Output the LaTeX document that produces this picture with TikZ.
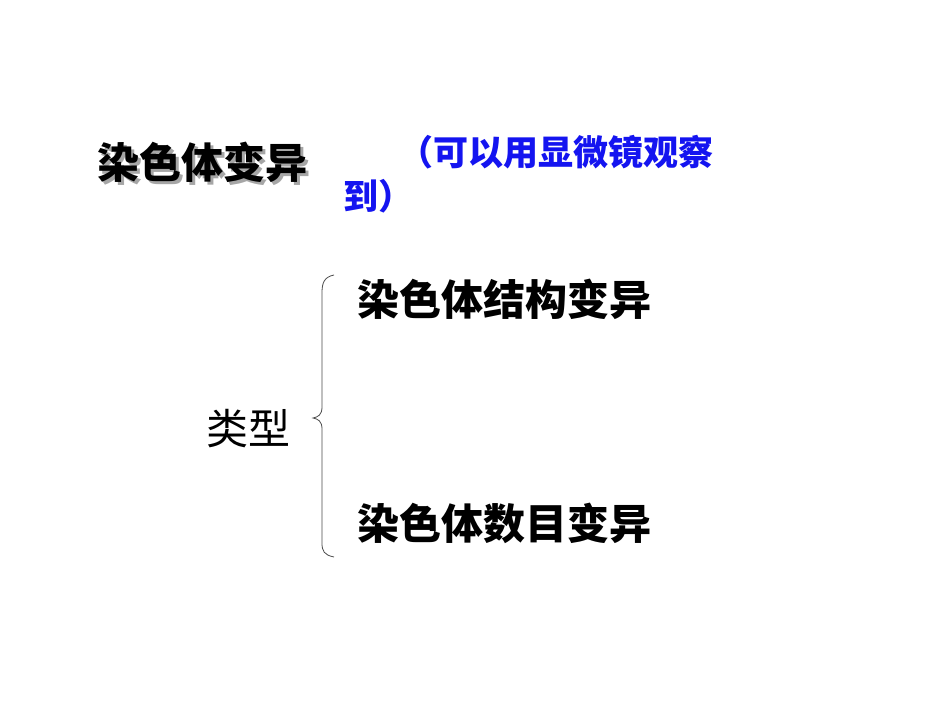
\documentclass[tikz,border=0pt]{standalone}
\usepackage{fontspec}
\newfontfamily\cjk{Noto Sans CJK SC}
\definecolor{tblue}{RGB}{20,20,240}
\begin{document}
\begin{tikzpicture}[x=1pt,y=1pt,
  big/.style={font=\cjk\bfseries\fontsize{42}{46}\selectfont,inner sep=0pt,anchor=west},
  bl/.style={font=\cjk\bfseries\fontsize{35}{42}\selectfont,inner sep=0pt,anchor=west,text=tblue}]
\useasboundingbox (0,0) rectangle (950,713);
\fill[white] (0,0) rectangle (950,713);
\node[big,text=gray!70] at (100,548) {染色体变异};
\node[big] (title) at (97,551) {染色体变异};
\node[bl] (p1) at (398,561) {（可以用显微镜观察};
\node[bl] (p2) at (343,517) {到）};
\node[big] (s) at (357,414) {染色体结构变异};
\node[big] (n) at (357,190) {染色体数目变异};
\node[font=\cjk\fontsize{42}{46}\selectfont,inner sep=0pt,anchor=west] (t) at (206,284) {类型};
\draw[line width=0.8pt,gray!60!black] (334,438) .. controls (324,436) and (322,430) .. (322,420)
  -- (322,306) .. controls (322,298) and (318,296) .. (313,295)
  .. controls (318,294) and (322,292) .. (322,284)
  -- (322,170) .. controls (322,162) and (324,158) .. (334,156);
\end{tikzpicture}
\end{document}
